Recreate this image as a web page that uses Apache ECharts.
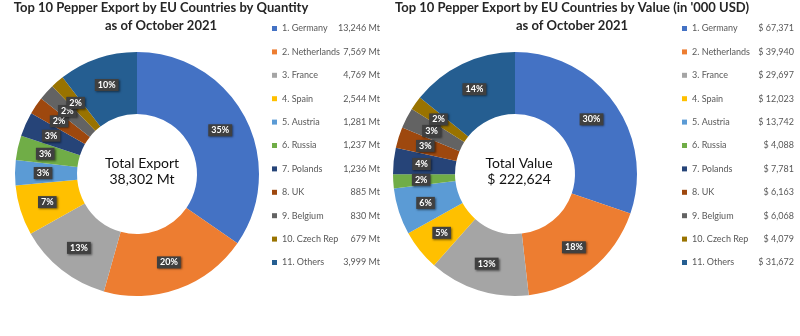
<!DOCTYPE html>
<html>
<head>
<meta charset="utf-8">
<script src="https://cdn.jsdelivr.net/npm/echarts@6/dist/echarts.min.js"></script>
<style>
html,body{margin:0;padding:0;background:#fff;}
#c{width:800px;height:336px;}
</style>
</head>
<body>
<div id="c"></div>
<script>
const categories = ['1. Germany','2. Netherlands','3. France','4. Spain','5. Austria','6. Russia','7. Polands','8. UK','9. Belgium','10. Czech Rep','11. Others'];
const qtyValues = [13246, 7569, 4769, 2544, 1281, 1237, 1236, 885, 830, 679, 3999];
const qtyPctLabels = ['35%','20%','13%','7%','3%','3%','3%','2%','2%','2%','10%'];
const valValues = [67371, 39940, 29697, 12023, 13742, 4088, 7781, 6163, 6068, 4079, 31672];
const valPctLabels = ['30%','18%','13%','5%','6%','2%','4%','3%','3%','2%','14%'];
const colors = ['#4472C4','#ED7D31','#A5A5A5','#FFC000','#5B9BD5','#70AD47','#264478','#9E480E','#636363','#997300','#255E91'];
const titleQty = 'Top 10 Pepper Export by EU Countries by Quantity\nas of October 2021';
const titleVal = "Top 10 Pepper Export by EU Countries by Value (in '000 USD)\nas of October 2021";
const centerQty = 'Total Export\n38,302 Mt';
const centerVal = 'Total Value\n$ 222,624';

const fmt = n => n.toLocaleString('en-US');
const FONT = 'Lato';

const chart = echarts.init(document.getElementById('c'), null, {renderer:'canvas'});

function pieSeries(values, labels, center) {
  return {
    type: 'pie',
    center: center,
    radius: [60, 122],
    startAngle: 90,
    clockwise: true,
    avoidLabelOverlap: false,
    silent: true,
    data: values.map((v, i) => ({name: categories[i], value: v, itemStyle: {color: colors[i]}})),
    label: {
      show: true,
      position: 'inside',
      overflow: 'none',
      formatter: p => labels[p.dataIndex],
      color: '#fff',
      fontFamily: FONT,
      fontWeight: 'bold',
      fontSize: 9,
      backgroundColor: '#404040',
      padding: [2, 3, 1, 3],
      shadowColor: 'rgba(0,0,0,0.5)',
      shadowBlur: 2,
      shadowOffsetX: 1,
      shadowOffsetY: 1
    },
    labelLayout: {hideOverlap: false},
    labelLine: {show: false},
    itemStyle: {borderWidth: 0}
  };
}

function legend(left, values, suffixFn, nameW, valW) {
  return {
    orient: 'vertical',
    left: left,
    top: 19,
    icon: 'rect',
    itemWidth: 5,
    itemHeight: 5,
    itemGap: 14.4,
    selectedMode: false,
    data: categories,
    formatter: name => {
      const i = categories.indexOf(name);
      return '{n|' + name + '}{v|' + suffixFn(values[i]) + '}';
    },
    textStyle: {
      color: '#595959',
      fontFamily: FONT,
      fontSize: 9,
      rich: {
        n: {width: nameW, fontFamily: FONT, fontSize: 9, lineHeight: 12, color: '#595959'},
        v: {width: valW, align: 'right', fontFamily: FONT, fontSize: 9, lineHeight: 12, color: '#595959'}
      }
    }
  };
}

chart.setOption({
  animation: false,
  title: [
    {text: titleQty, left: 156, top: -6, textAlign: 'center',
     textStyle: {fontFamily: FONT, fontWeight: 'bold', fontSize: 13, color: '#262626', lineHeight: 18}},
    {text: titleVal, left: 567, top: -6, textAlign: 'center',
     textStyle: {fontFamily: FONT, fontWeight: 'bold', fontSize: 13, color: '#262626', lineHeight: 18}},
    {text: centerQty, left: 137, top: 150, textAlign: 'center',
     textStyle: {fontFamily: FONT, fontWeight: 'normal', fontSize: 14, color: '#111', lineHeight: 16}},
    {text: centerVal, left: 514, top: 150, textAlign: 'center',
     textStyle: {fontFamily: FONT, fontWeight: 'normal', fontSize: 14, color: '#111', lineHeight: 16}}
  ],
  legend: [
    legend(267, qtyValues, v => fmt(v) + ' Mt', 61, 37),
    legend(677, valValues, v => '$ ' + fmt(v), 64, 38)
  ],
  series: [
    pieSeries(qtyValues, qtyPctLabels, [137, 174]),
    pieSeries(valValues, valPctLabels, [515, 174])
  ]
});
</script>
</body>
</html>
